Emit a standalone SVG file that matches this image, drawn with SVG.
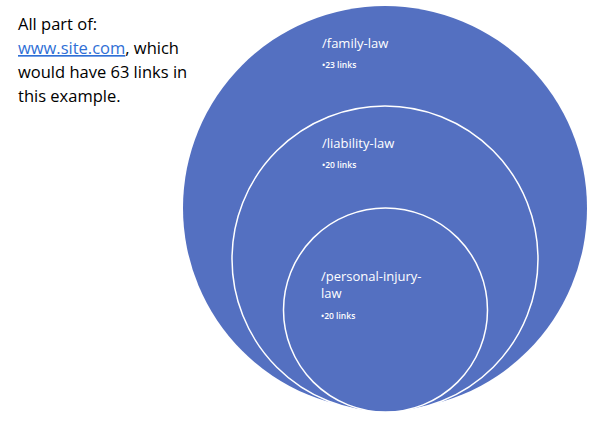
<svg xmlns="http://www.w3.org/2000/svg" width="600" height="428" viewBox="0 0 600 428">
<style>
.c{fill:#5470c1}
.i{fill:none;stroke:#fff;stroke-width:1.5}
.t{font-family:"Open Sans","Liberation Sans",sans-serif;fill:#fff;font-size:13px}
.s{font-family:"Open Sans","Liberation Sans",sans-serif;fill:#fff;font-size:8.5px;font-weight:600}
.l{font-family:"Open Sans","Liberation Sans",sans-serif;fill:#000;font-size:16.5px}
</style>
<rect width="600" height="428" fill="#fff"/>
<g id="caption">
<text class="l" x="18" y="30">All part of:</text>
<text class="l" x="18" y="54"><tspan fill="#2f6fd6" text-decoration="underline">www.site.com</tspan>, which</text>
<text class="l" x="18" y="78">would have 63 links in</text>
<text class="l" x="18" y="102">this example.</text>
</g>
<g id="family-law">
<circle class="c" cx="385" cy="208" r="202"/>
<text class="t" x="322" y="48">/family-law</text>
<text class="s" x="322" y="68">•23 links</text>
</g>
<g id="liability-law">
<circle class="c i" cx="385" cy="259" r="153" style="fill:#5470c1"/>
<text class="t" x="322" y="148">/liability-law</text>
<text class="s" x="322" y="168">•20 links</text>
</g>
<g id="personal-injury-law">
<circle class="c i" cx="385.5" cy="310" r="102" style="fill:#5470c1"/>
<text class="t" x="321" y="281">/personal-injury-</text>
<text class="t" x="321" y="298">law</text>
<text class="s" x="321" y="319">•20 links</text>
</g>
<g id="connectors"/>
</svg>
